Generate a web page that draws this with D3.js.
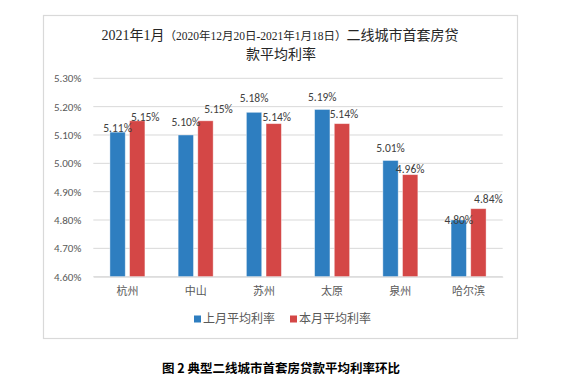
<!DOCTYPE html>
<html>
<head>
<meta charset="utf-8">
<script src="https://cdn.jsdelivr.net/npm/d3@7"></script>
<style>
  body { margin: 0; background: #fff; }
  svg { display: block; }
</style>
</head>
<body>
<svg id="chart" width="568" height="385"></svg>
<script>
// Chart data.
let cities = ["杭州", "中山", "苏州", "太原", "泉州", "哈尔滨"];
let seriesNames = ["上月平均利率", "本月平均利率"];
let lastMonth = [5.11, 5.10, 5.18, 5.19, 5.01, 4.80];
let thisMonth = [5.15, 5.15, 5.14, 5.14, 4.96, 4.84];
let yTicks = [4.60, 4.70, 4.80, 4.90, 5.00, 5.10, 5.20, 5.30];

// label nudges [dx, dy] relative to bar centre / top (the original has hand-placed labels)
let labelNudge = [
    [[0, -4], [8, -4]],
    [[0, -13], [13, -12]],
    [[0, -14], [3, -7]],
    [[0, -13], [2, -10]],
    [[0, -13], [0, -6]],
    [[0, 0], [10, -10]]
];

let colors = ["#2E7EC0", "#D44746"];
let cjk = "'Noto Sans CJK SC', 'Noto Sans', sans-serif";
let latin = "Calibri, Carlito, 'Open Sans', 'Noto Sans', sans-serif";

let svg = d3.select("#chart");

// outer chart frame
svg.append("rect")
    .attr("x", 43.5).attr("y", 15.5)
    .attr("width", 474).attr("height", 323)
    .attr("fill", "#fff")
    .attr("stroke", "#d9d9d9")
    .attr("stroke-width", 1.2);

// title, two lines, serif look with a smaller date range
let title = svg.append("text")
    .attr("x", 280).attr("y", 40)
    .attr("text-anchor", "middle")
    .attr("fill", "#262626")
    .style("font-family", "'Liberation Serif', 'Noto Sans CJK SC', serif")
    .style("font-size", "14px");
title.append("tspan").text("2021年1月");
title.append("tspan").style("font-size", "11.5px").text("（2020年12月20日-2021年1月18日）");
title.append("tspan").text("二线城市首套房贷");

svg.append("text")
    .attr("x", 281).attr("y", 59)
    .attr("text-anchor", "middle")
    .attr("fill", "#262626")
    .style("font-family", "'Liberation Serif', 'Noto Sans CJK SC', serif")
    .style("font-size", "14px")
    .text("款平均利率");

let plot = {left: 93.3, right: 502.7, top: 78.3, bottom: 276.7};

let y = d3.scaleLinear().domain([4.60, 5.30]).range([plot.bottom, plot.top]);
let x0 = d3.scaleBand().domain(cities).range([plot.left, plot.right]).paddingInner(0.487).paddingOuter(0.2435);
let x1 = d3.scaleBand().domain(seriesNames).range([0, x0.bandwidth()]).paddingInner(0.22);

// gridlines
svg.append("g")
    .selectAll("line")
    .data(yTicks)
    .enter().append("line")
    .attr("x1", plot.left).attr("x2", plot.right)
    .attr("y1", d => y(d)).attr("y2", d => y(d))
    .attr("stroke", "#d9d9d9")
    .attr("stroke-width", 1);

// y axis labels
let yAxis = svg.append("g")
    .attr("transform", "translate(" + (plot.left - 12) + ",0)")
    .call(d3.axisLeft(y).tickValues(yTicks).tickSize(0).tickPadding(0).tickFormat(d => d.toFixed(2) + "%"));
yAxis.select(".domain").remove();
yAxis.selectAll("text")
    .attr("fill", "#595959")
    .style("font-family", latin)
    .style("font-size", "11px");

// bars
let rows = cities.map((c, i) => ({city: c, i: i, values: [lastMonth[i], thisMonth[i]]}));

let groups = svg.selectAll(".city")
    .data(rows)
    .enter().append("g")
    .attr("class", "city")
    .attr("transform", d => "translate(" + x0(d.city) + ",0)");

groups.selectAll("rect")
    .data(d => d.values.map((v, j) => ({v: v, j: j})))
    .enter().append("rect")
    .attr("x", d => x1(seriesNames[d.j]))
    .attr("y", d => y(d.v))
    .attr("width", x1.bandwidth())
    .attr("height", d => plot.bottom - y(d.v))
    .attr("fill", d => colors[d.j])
    .attr("stroke", "#fff")
    .attr("stroke-opacity", 0.5)
    .attr("stroke-width", 0.8);

// value labels
groups.selectAll(".val")
    .data(d => d.values.map((v, j) => ({v: v, j: j, i: d.i})))
    .enter().append("text")
    .attr("class", "val")
    .attr("x", d => x1(seriesNames[d.j]) + x1.bandwidth() / 2 + labelNudge[d.i][d.j][0])
    .attr("y", d => y(d.v) + labelNudge[d.i][d.j][1])
    .attr("dy", "0.35em")
    .attr("text-anchor", "middle")
    .attr("fill", "#404040")
    .style("font-family", latin)
    .style("font-size", "11.5px")
    .text(d => d.v.toFixed(2) + "%");

// category labels
let xAxis = svg.append("g")
    .attr("transform", "translate(0," + plot.bottom + ")")
    .call(d3.axisBottom(x0).tickSize(0).tickPadding(11));
xAxis.select(".domain").attr("stroke", "#d9d9d9");
xAxis.selectAll("text")
    .attr("fill", "#595959")
    .style("font-family", cjk)
    .style("font-size", "11px");

// legend
let legendX = [194, 290];
let legend = svg.selectAll(".legend")
    .data(seriesNames)
    .enter().append("g")
    .attr("class", "legend")
    .attr("transform", (d, i) => "translate(" + legendX[i] + ",319)");
legend.append("rect")
    .attr("x", 0).attr("y", -3.5)
    .attr("width", 7).attr("height", 7)
    .attr("fill", (d, i) => colors[i]);
legend.append("text")
    .attr("x", 9).attr("dy", "0.35em")
    .attr("fill", "#595959")
    .style("font-family", cjk)
    .style("font-size", "12px")
    .text(d => d);

// figure caption under the frame
svg.append("text")
    .attr("x", 281).attr("y", 373)
    .attr("text-anchor", "middle")
    .attr("fill", "#000")
    .style("font-family", cjk)
    .style("font-size", "12.5px")
    .style("font-weight", "bold")
    .text("图 2  典型二线城市首套房贷款平均利率环比");
</script>
</body>
</html>
